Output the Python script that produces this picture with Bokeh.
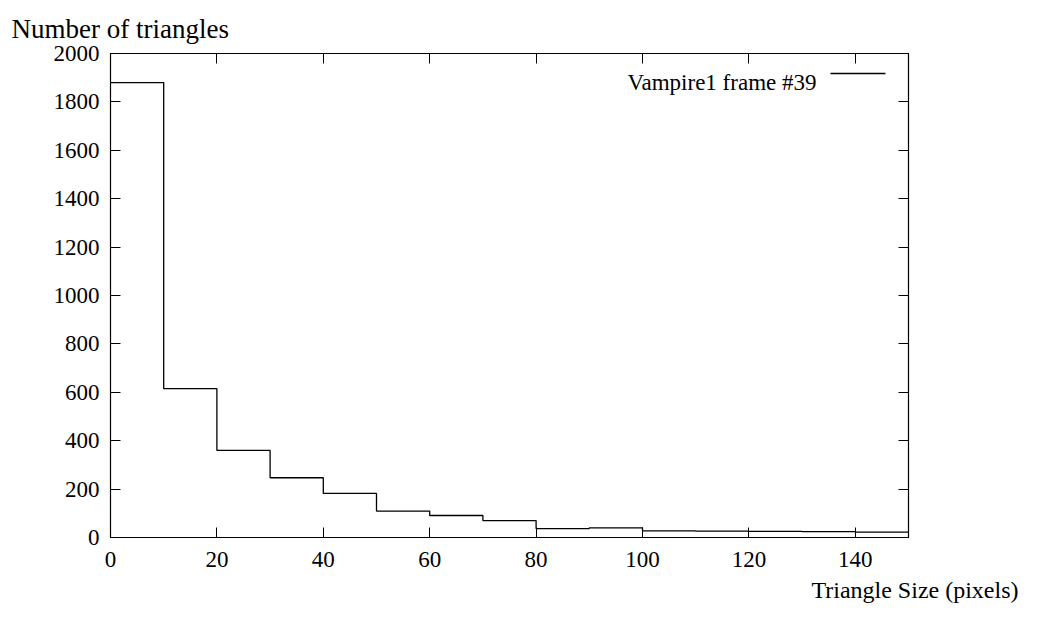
from bokeh.plotting import figure
from bokeh.models import LinearAxis, Label, Arrow, FixedTicker, Range1d, Title
from bokeh.embed import file_html
from bokeh.resources import INLINE

# Histogram bins (left edges, pixels) and triangle counts
bin_left = [0, 10, 20, 30, 40, 50, 60, 70, 80, 90, 100, 110, 120, 130, 140]
counts = [1880, 615, 360, 247, 182, 109, 91, 70, 37, 40, 27, 26, 25, 24, 22]
x_end = 150
x_ticks = [0, 20, 40, 60, 80, 100, 120, 140]
y_ticks = [0, 200, 400, 600, 800, 1000, 1200, 1400, 1600, 1800, 2000]
series_name = "Vampire1 frame #39"
x_label = "Triangle Size (pixels)"
y_label = "Number of triangles"

FONT = "Liberation Serif"
FS = "23px"
W, H = 1037, 612

p = figure(width=W, height=H, output_backend="svg", toolbar_location=None,
           x_range=Range1d(0, 150), y_range=Range1d(0, 2000),
           x_axis_location=None, y_axis_location=None,
           min_border_left=110, min_border_right=W - 908,
           min_border_top=53, min_border_bottom=H - 537)
p.grid.visible = False
p.outline_line_color = "black"
p.outline_line_width = 1.2
p.background_fill_color = "white"
p.border_fill_color = "white"

xs = bin_left + [x_end]
ys = counts + [counts[-1]]
p.step(xs, ys, mode="after", line_color="black", line_width=1.3)

def mk_axis(ticks, show_labels):
    a = LinearAxis(ticker=FixedTicker(ticks=ticks))
    a.major_tick_in = 10
    a.major_tick_out = 0
    a.minor_tick_line_color = None
    a.axis_line_color = "black"
    a.major_tick_line_color = "black"
    a.major_label_text_font = FONT
    a.major_label_text_font_size = FS
    a.major_label_text_color = "black"
    if not show_labels:
        a.major_label_text_font_size = "0px"
        a.major_label_text_color = None
        a.major_label_standoff = 0
    return a

bx = mk_axis(x_ticks, True); bx.major_label_standoff = 14
ly = mk_axis(y_ticks, True); ly.major_label_standoff = 11
p.add_layout(bx, "below")
p.add_layout(ly, "left")
p.add_layout(mk_axis(x_ticks, False), "above")
p.add_layout(mk_axis(y_ticks, False), "right")

# axis titles (gnuplot style)
p.title = Title(text=y_label, align="left", offset=-99, standoff=20,
                text_font=FONT, text_font_size="27px", text_font_style="normal",
                text_color="black")
p.add_layout(Title(text=x_label, align="right", offset=-110, standoff=11, text_font=FONT,
                   text_font_size="24px", text_font_style="normal", text_color="black"),
             "below")

# legend (text then line sample); screen units measured from the frame's bottom-left
p.add_layout(Label(x=706, y=455, x_units="screen", y_units="screen", text=series_name,
                   text_font=FONT, text_font_size=FS, text_baseline="alphabetic",
                   text_align="right", text_color="black"))
p.add_layout(Arrow(x_start=720, y_start=464, x_end=775, y_end=464,
                   start_units="screen", end_units="screen", end=None,
                   line_color="black", line_width=1.3))

open("out.html", "w").write(file_html(p, INLINE))
